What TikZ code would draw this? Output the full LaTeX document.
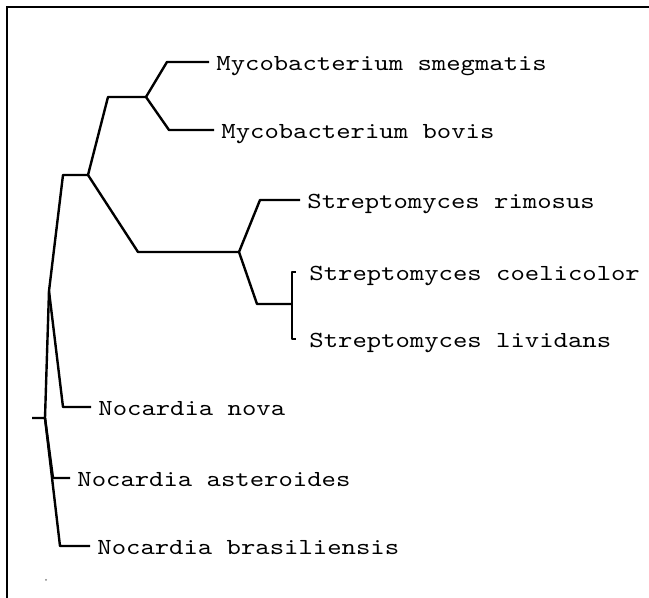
\documentclass[tikz,border=0pt]{standalone}
\usepackage{fontspec}
\newfontfamily\taxfont[FakeStretch=1.19]{lmmono10-regular.otf}

\begin{document}
\begin{tikzpicture}[x=0.5pt,y=-0.5pt,
  branch/.style={line width=1.2pt,line join=round},
  frame/.style={line width=1.2pt},
  taxon/.style={anchor=west,inner xsep=3.5pt,inner ysep=0pt,text height=8.5pt,text depth=0pt,
    font=\taxfont\fontsize{11.5}{14}\selectfont}]
\useasboundingbox (0,0) rectangle (649,598);

\draw[frame] (649,7)--(7,7)--(7,598);

% inner nodes
\coordinate (tick) at (32,418);
\coordinate (root) at (45,418);
\coordinate (nA) at (49,291);
\coordinate (nB) at (63,175);   \coordinate (nC) at (88,175);
\coordinate (myco0) at (108,97); \coordinate (myco) at (146,97);
\coordinate (strep0) at (138,252); \coordinate (strep) at (239,252);
\coordinate (sc0) at (257,304); \coordinate (sc) at (292,304);

% elbows of the leaves
\coordinate (smeg0) at (167,62);
\coordinate (bov0) at (169,130);
\coordinate (rim0) at (260,200);
\coordinate (coe0) at (292,272);
\coordinate (liv0) at (292,339);
\coordinate (nova0) at (63,407);
\coordinate (ast0) at (53,478);
\coordinate (bra0) at (60,546);

% leaves
\node[taxon] (smeg) at (209,62) {Mycobacterium smegmatis};
\node[taxon] (bov) at (214,130) {Mycobacterium bovis};
\node[taxon] (rim) at (300,200) {Streptomyces rimosus};
\node[taxon,inner xsep=6.5pt] (coe) at (296,272) {Streptomyces coelicolor};
\node[taxon,inner xsep=6.5pt] (liv) at (296,339) {Streptomyces lividans};
\node[taxon] (nova) at (91,407) {Nocardia nova};
\node[taxon] (ast) at (70,478) {Nocardia asteroides};
\node[taxon] (bra) at (90,546) {Nocardia brasiliensis};

\draw[branch] (tick)--(root)--(nA);
\foreach \p/\e/\c in {nA/nB/nC, nC/myco0/myco, nC/strep0/strep, strep/sc0/sc,
    myco/smeg0/smeg.west, myco/bov0/bov.west, strep/rim0/rim.west,
    sc/coe0/coe.west, sc/liv0/liv.west, nA/nova0/nova.west,
    root/ast0/ast.west, root/bra0/bra.west}
  \draw[branch] (\p)--(\e)--(\c);

\fill[gray] (46,580) circle[radius=0.5pt];
\end{tikzpicture}
\end{document}
